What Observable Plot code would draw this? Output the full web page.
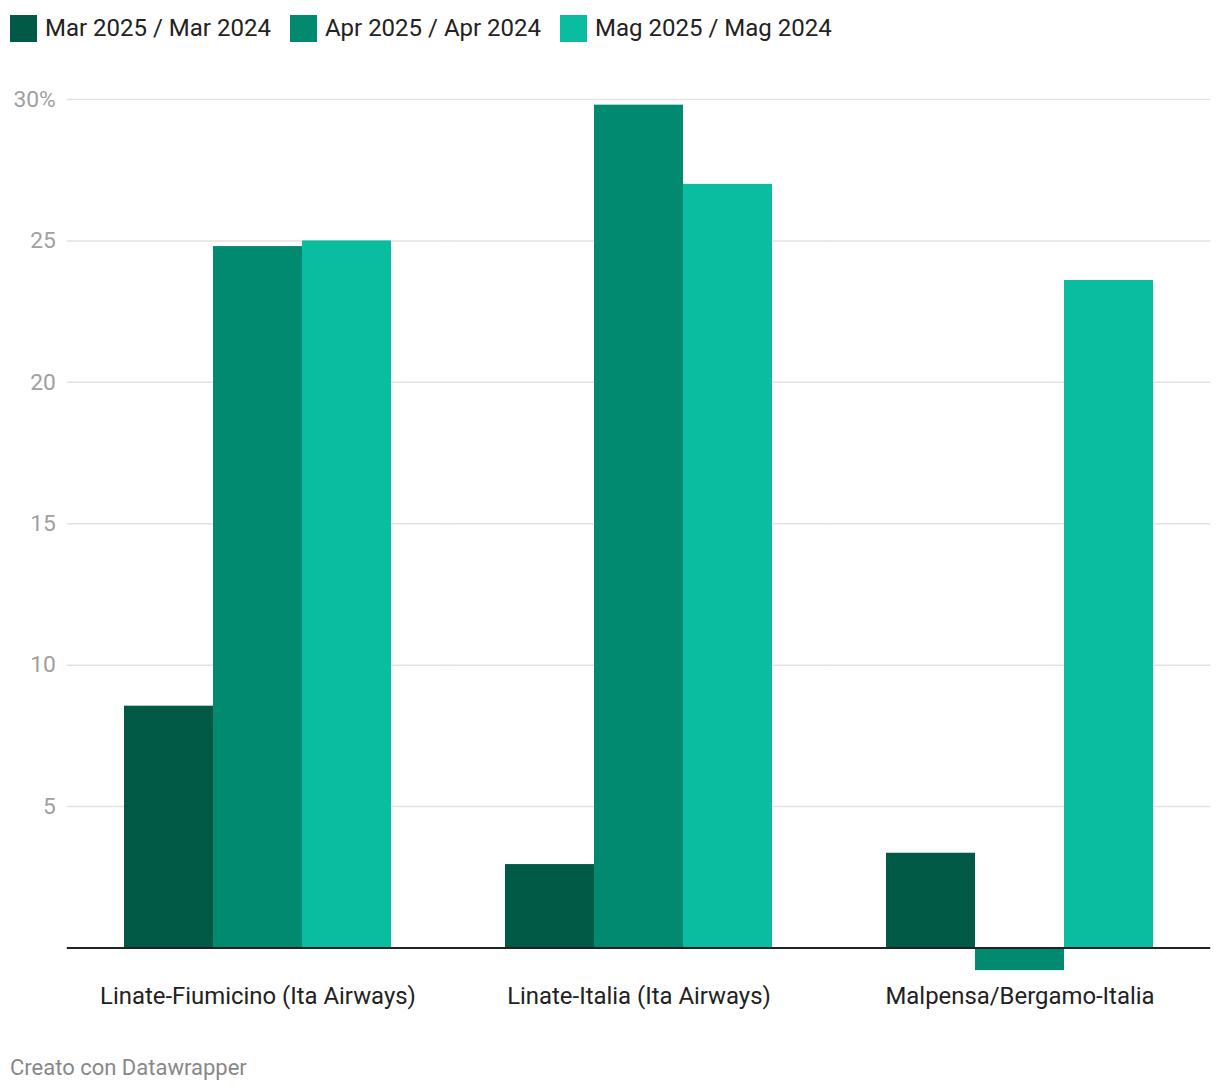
<!DOCTYPE html>
<html>
<head>
<meta charset="utf-8">
<script src="https://cdn.jsdelivr.net/npm/d3@7"></script>
<script src="https://cdn.jsdelivr.net/npm/@observablehq/plot@0.6"></script>
<style>
  html, body { margin: 0; padding: 0; background: #fff; }
  body { width: 1220px; height: 1092px; font-family: Roboto, "Noto Sans", sans-serif; overflow: hidden; }
  #legend { height: 56px; box-sizing: border-box; padding: 14px 0 0 10px; display: flex; align-items: flex-start; }
  #legend .item { display: flex; align-items: center; margin-right: 19px; }
  #legend .sw { width: 27px; height: 27px; margin-right: 8px; }
  #legend .lab { font-size: 24px; color: #222; line-height: 29px; white-space: nowrap; }
  #caption { height: 46px; line-height: 44px; padding-left: 10px; font-size: 22px; color: #888; }
  svg { display: block; }
</style>
</head>
<body>
<div id="legend"></div>
<div id="chart"></div>
<div id="caption">Creato con Datawrapper</div>
<script>
const categories = ["Linate-Fiumicino (Ita Airways)", "Linate-Italia (Ita Airways)", "Malpensa/Bergamo-Italia"];
const series = ["Mar 2025 / Mar 2024", "Apr 2025 / Apr 2024", "Mag 2025 / Mag 2024"];
const colors = ["#015a45", "#028a70", "#0bbda0"];
const marValues = [8.55, 2.95, 3.35];
const aprValues = [24.8, 29.8, -0.8];
const magValues = [25.0, 27.0, 23.6];
const yTicks = [5, 10, 15, 20, 25, 30];

const seriesValues = [marValues, aprValues, magValues];
const data = [];
categories.forEach((c, i) => {
  series.forEach((s, j) => data.push({category: c, series: s, value: seriesValues[j][i]}));
});

// legend
const legend = document.getElementById("legend");
series.forEach((s, j) => {
  const it = document.createElement("div");
  it.className = "item";
  it.innerHTML = `<div class="sw" style="background:${colors[j]}"></div><div class="lab">${s}</div>`;
  legend.appendChild(it);
});

const W = 1220, ML = 66, MR = 10;
const padInner = 0.3, padOuter = 0.15;
const step = (W - ML - MR) / (categories.length - padInner + 2 * padOuter);
const gapHalf = step * padOuter; // extend facet-level rules across the gaps between facets

const chart = Plot.plot({
  width: W,
  height: 990,
  marginTop: 43,
  marginBottom: 98.5,
  marginLeft: ML,
  marginRight: MR,
  style: {fontFamily: "Roboto, 'Noto Sans', sans-serif", background: "#fff"},
  fx: {domain: categories, paddingInner: padInner, paddingOuter: padOuter, label: null},
  x: {domain: series, padding: 0, axis: null},
  y: {domain: [0, 30], axis: null},
  color: {domain: series, range: colors},
  marks: [
    Plot.ruleY(yTicks, {stroke: "#e2e2e2", strokeWidth: 1.5, insetLeft: -gapHalf, insetRight: -gapHalf}),
    Plot.axisY(yTicks, {anchor: "left", tickSize: 0, tickPadding: 11.5 + gapHalf, tickFormat: d => d === 30 ? "30%" : String(d), fontSize: 22.8, color: "#a0a0a0", label: null}),
    Plot.barY(data, {fx: "category", x: "series", y: "value", fill: "series"}),
    Plot.ruleY([0], {stroke: "#222", strokeWidth: 2, insetLeft: -gapHalf, insetRight: -gapHalf}),
    Plot.axisFx({anchor: "bottom", tickSize: 0, tickPadding: 39, fontSize: 23.9, label: null, color: "#222"})
  ]
});
document.getElementById("chart").appendChild(chart);
</script>
</body>
</html>
